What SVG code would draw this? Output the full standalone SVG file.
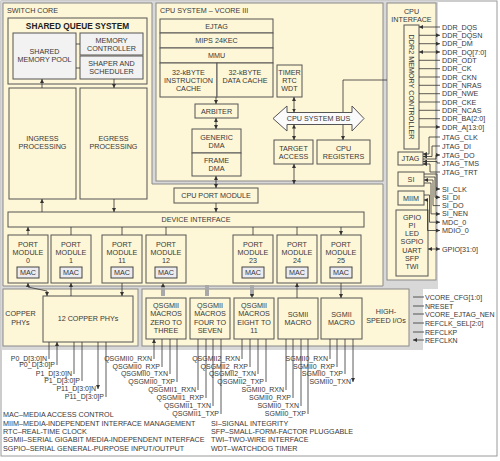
<svg xmlns="http://www.w3.org/2000/svg" width="500" height="461" viewBox="0 0 500 461">
<defs>
<style>
.bg{fill:#d8d8d8}
.panel{fill:#fdf6d7;stroke:#8a8a8a;stroke-width:1}
.box{fill:#fdf6d7;stroke:#555;stroke-width:1}
.lbox{fill:#f2f2f2;stroke:#555;stroke-width:1}
.mac{fill:#ebebf0;stroke:#444;stroke-width:1}
.bus{fill:#fafafa;stroke:#555;stroke-width:1}
text{font-family:"Liberation Sans",Arial,sans-serif;font-size:7.2px;fill:#383838}
.c{text-anchor:middle}
.e{text-anchor:end}
.s7{font-size:7px}
.b{font-weight:bold;font-size:8.3px;fill:#222}
.ln{stroke:#333;stroke-width:0.8;fill:none}
.a{marker-end:url(#ah)}
.r{marker-start:url(#ah)}
.gb{stroke:#a8a8a8;stroke-width:4;fill:none}
</style>
<marker id="ah" viewBox="0 0 6 6" refX="6" refY="3" markerWidth="4" markerHeight="4" orient="auto-start-reverse" markerUnits="userSpaceOnUse"><path d="M0,0L6,3L0,6z" fill="#333"/></marker>
</defs>

<rect x="1" y="1" width="496" height="455" fill="#fff" stroke="#9a9a9a" stroke-width="1"/>
<polygon class="bg" points="1,1 438,1 438,289 423,289 423,350 1,350"/>

<g id="switch-core">
<path class="panel" d="M3,3H152V184H383V286H3Z"/>
<text x="7" y="12.5">SWITCH CORE</text>
</g>
<g id="shared-queue-system">
<rect class="box" x="8" y="18" width="139" height="66" stroke-width="1.3"/>
<text class="c b" x="77.5" y="29">SHARED QUEUE SYSTEM</text>
</g>
<g id="shared-memory-pool">
<rect class="lbox" x="13" y="33" width="63" height="46"/>
<text class="c" x="44.5" y="53.5">SHARED</text>
<text class="c" x="44.5" y="61.5">MEMORY POOL</text>
</g>
<g id="memory-controller">
<rect class="lbox" x="80" y="33" width="63" height="22"/>
<text class="c" x="111.5" y="42.5">MEMORY</text>
<text class="c" x="111.5" y="50.5">CONTROLLER</text>
</g>
<g id="shaper">
<rect class="lbox" x="80" y="56" width="63" height="23"/>
<text class="c" x="111.5" y="65.5">SHAPER AND</text>
<text class="c" x="111.5" y="73.5">SCHEDULER</text>
</g>
<g id="ingress">
<rect class="box" x="9" y="88" width="67" height="111"/>
<text class="c" x="42.5" y="140.5">INGRESS</text>
<text class="c" x="42.5" y="148.5">PROCESSING</text>
</g>
<g id="egress">
<rect class="box" x="80" y="88" width="67" height="111"/>
<text class="c" x="113.5" y="140.5">EGRESS</text>
<text class="c" x="113.5" y="148.5">PROCESSING</text>
</g>
<g id="device-interface">
<rect class="box" x="8" y="212" width="356" height="15"/>
<text class="c" x="196" y="222">DEVICE INTERFACE</text>
</g>
<g id="cpu-port-module">
<rect class="box" x="174" y="188" width="84" height="15"/>
<text class="c" x="216" y="198">CPU PORT MODULE</text>
</g>

<g id="pm0"><rect class="box" x="8" y="235" width="40" height="48"/><text class="c" x="28" y="246.5">PORT</text><text class="c" x="28" y="254.5">MODULE</text><text class="c" x="28" y="262.5">0</text><rect class="mac" x="17" y="267" width="22" height="11"/><text class="c" x="28" y="275">MAC</text></g>
<g id="pm1"><rect class="box" x="51" y="235" width="40" height="48"/><text class="c" x="71" y="246.5">PORT</text><text class="c" x="71" y="254.5">MODULE</text><text class="c" x="71" y="262.5">1</text><rect class="mac" x="60" y="267" width="22" height="11"/><text class="c" x="71" y="275">MAC</text></g>
<g id="pm11"><rect class="box" x="102" y="235" width="40" height="48"/><text class="c" x="122" y="246.5">PORT</text><text class="c" x="122" y="254.5">MODULE</text><text class="c" x="122" y="262.5">11</text><rect class="mac" x="111" y="267" width="22" height="11"/><text class="c" x="122" y="275">MAC</text></g>
<g id="pm12"><rect class="box" x="146" y="235" width="40" height="48"/><text class="c" x="166" y="246.5">PORT</text><text class="c" x="166" y="254.5">MODULE</text><text class="c" x="166" y="262.5">12</text><rect class="mac" x="155" y="267" width="22" height="11"/><text class="c" x="166" y="275">MAC</text></g>
<g id="pm23"><rect class="box" x="233" y="235" width="40" height="48"/><text class="c" x="253" y="246.5">PORT</text><text class="c" x="253" y="254.5">MODULE</text><text class="c" x="253" y="262.5">23</text><rect class="mac" x="242" y="267" width="22" height="11"/><text class="c" x="253" y="275">MAC</text></g>
<g id="pm24"><rect class="box" x="277" y="235" width="40" height="48"/><text class="c" x="297" y="246.5">PORT</text><text class="c" x="297" y="254.5">MODULE</text><text class="c" x="297" y="262.5">24</text><rect class="mac" x="286" y="267" width="22" height="11"/><text class="c" x="297" y="275">MAC</text></g>
<g id="pm25"><rect class="box" x="321" y="235" width="40" height="48"/><text class="c" x="341" y="246.5">PORT</text><text class="c" x="341" y="254.5">MODULE</text><text class="c" x="341" y="262.5">25</text><rect class="mac" x="330" y="267" width="22" height="11"/><text class="c" x="341" y="275">MAC</text></g>

<g id="cpu-system">
<rect class="panel" x="156" y="3" width="227" height="178"/>
<text x="160" y="12.5">CPU SYSTEM – VCORE III</text>
</g>
<g id="ejtag"><rect class="box" x="160" y="19" width="113" height="14"/><text class="c" x="216.5" y="28.5">EJTAG</text></g>
<g id="mips"><rect class="box" x="160" y="33" width="113" height="15"/><text class="c" x="216.5" y="43">MIPS 24KEC</text></g>
<g id="mmu"><rect class="box" x="160" y="48" width="113" height="15"/><text class="c" x="216.5" y="58">MMU</text></g>
<g id="icache"><rect class="box" x="160" y="63" width="57" height="34"/><text class="c" x="188.5" y="74.5">32-kBYTE</text><text class="c" x="188.5" y="82.5">INSTRUCTION</text><text class="c" x="188.5" y="90.5">CACHE</text></g>
<g id="dcache"><rect class="box" x="217" y="63" width="56" height="34"/><text class="c" x="245" y="74.5">32-kBYTE</text><text class="c" x="245" y="82.5">DATA CACHE</text></g>
<g id="timer"><rect class="box" x="277" y="65" width="25" height="32"/><text class="c" x="289.5" y="74.5">TIMER</text><text class="c" x="289.5" y="82.5">RTC</text><text class="c" x="289.5" y="90.5">WDT</text></g>
<g id="arbiter"><rect class="box" x="195" y="104" width="43" height="14"/><text class="c" x="216.5" y="113.5">ARBITER</text></g>
<g id="generic-dma"><rect class="box" x="192" y="129" width="49" height="24"/><text class="c" x="216.5" y="139.5">GENERIC</text><text class="c" x="216.5" y="147.5">DMA</text></g>
<g id="frame-dma"><rect class="box" x="192" y="153" width="49" height="23"/><text class="c" x="216.5" y="162.5">FRAME</text><text class="c" x="216.5" y="170.5">DMA</text></g>
<g id="target-access"><rect class="box" x="274" y="140" width="39" height="24"/><text class="c" x="293.5" y="150.5">TARGET</text><text class="c" x="293.5" y="158.5">ACCESS</text></g>
<g id="cpu-registers"><rect class="box" x="317" y="140" width="53" height="24"/><text class="c" x="343.5" y="150.5">CPU</text><text class="c" x="343.5" y="158.5">REGISTERS</text></g>

<g id="cpu-interface">
<rect class="panel" x="387" y="3" width="49" height="277"/>
<text class="c" x="411.5" y="13.5">CPU</text>
<text class="c" x="411.5" y="21.5">INTERFACE</text>
</g>
<g id="ddr2-controller"><rect class="box" x="404" y="25" width="15" height="124"/><text class="c" transform="translate(411.5,87) rotate(90)" y="2.5">DDR2 MEMORY CONTROLLER</text></g>
<g id="jtag"><rect class="box" x="398" y="152" width="25" height="13"/><text class="c" x="410.5" y="161">JTAG</text></g>
<g id="si"><rect class="box" x="398" y="172" width="26" height="14"/><text class="c" x="411" y="181.5">SI</text></g>
<g id="miim"><rect class="box" x="398" y="191" width="26" height="14"/><text class="c" x="411" y="200.5">MIIM</text></g>
<g id="gpio"><rect class="box" x="396" y="210" width="32" height="66"/>
<text class="c" x="412" y="219.5">GPIO</text><text class="c" x="412" y="227.8">PI</text><text class="c" x="412" y="236.1">LED</text><text class="c" x="412" y="244.4">SGPIO</text><text class="c" x="412" y="252.7">UART</text><text class="c" x="412" y="261">SFP</text><text class="c" x="412" y="269.3">TWI</text></g>

<g id="copper-phys-panel">
<rect class="panel" x="3" y="289" width="135" height="57"/>
<text class="c" x="20.5" y="315.5">COPPER</text>
<text class="c" x="20.5" y="324.5">PHYs</text>
</g>
<g id="copper-phys"><rect class="box" x="43" y="296" width="90" height="46"/><text class="c" x="88" y="320.5">12 COPPER PHYs</text></g>
<g id="high-speed-io">
<rect class="panel" x="142" y="289" width="267" height="57"/>
<text class="c" x="386" y="313.5">HIGH-</text>
<text class="c" x="386" y="322.5">SPEED I/Os</text>
</g>
<g id="qsgmii0"><rect class="box" x="146" y="298" width="40" height="41"/><text class="c" x="166" y="307.5">QSGMII</text><text class="c" x="166" y="316">MACROS</text><text class="c" x="166" y="324.5">ZERO TO</text><text class="c" x="166" y="333">THREE</text></g>
<g id="qsgmii1"><rect class="box" x="190" y="298" width="40" height="41"/><text class="c" x="210" y="307.5">QSGMII</text><text class="c" x="210" y="316">MACROS</text><text class="c" x="210" y="324.5">FOUR TO</text><text class="c" x="210" y="333">SEVEN</text></g>
<g id="qsgmii2"><rect class="box" x="234" y="298" width="40" height="41"/><text class="c" x="254" y="307.5">QSGMII</text><text class="c" x="254" y="316">MACROS</text><text class="c" x="254" y="324.5">EIGHT TO</text><text class="c" x="254" y="333">11</text></g>
<g id="sgmii-a"><rect class="box" x="278" y="298" width="40" height="41"/><text class="c" x="298" y="316.5">SGMII</text><text class="c" x="298" y="325">MACRO</text></g>
<g id="sgmii-b"><rect class="box" x="321" y="298" width="41" height="41"/><text class="c" x="341.5" y="316.5">SGMII</text><text class="c" x="341.5" y="325">MACRO</text></g>

<g id="connectors">
<path class="ln" d="M76,44H80M76,68H80"/>
<path class="ln a" d="M42,88V79"/>
<path class="ln a" d="M114,79V88"/>
<path class="ln a" d="M42,212V199"/>
<path class="ln a" d="M114,199V212"/>
<path class="ln a" d="M216,203V212"/>
<path class="ln a r" d="M28,227V235M71,227V235M122,227V235M166,227V235M253,227V235M297,227V235M341,227V235"/>
<path class="ln a r" d="M216,176V188"/>
<path class="ln a" d="M216,97V104"/>
<path class="ln a r" d="M216,118V129"/>
<path class="ln" d="M387,80H343V112"/>
<polygon class="bus" points="273,118.5 287,106 287,112.5 352,112.5 352,106 364,118.5 352,131 352,124.5 287,124.5 287,131"/>
<text class="c" x="318.5" y="121">CPU SYSTEM BUS</text>
<path class="ln a" d="M343,124.5V140"/>
<path class="ln a r" d="M294,112.5V97"/>
<path class="ln a r" d="M294,124.5V140"/>
<path class="ln a r" d="M294,164V184"/>
<path class="ln a r" d="M28,283V287L47,291V296"/>
<path class="ln a r" d="M71,283V296M122,283V296"/>
<path class="gb" d="M163,285V296M207,285V296M252,285V296"/>
<path class="a r" stroke="none" fill="none" d="M163,283V298M207,283V298M252,283V298"/>
<path class="ln a r" d="M297,283V298M341,283V298"/>
<path class="ln a r" d="M419,27H440M419,35.3H440"/>
<path class="ln a" d="M419,43.7H440"/>
<path class="ln a r" d="M419,52H440"/>
<path class="ln a" d="M419,60.3H440M419,68.7H440M419,77H440M419,85.3H440M419,93.7H440M419,102H440M419,110.3H440M419,118.7H440M419,127H440"/>
<path class="ln r" d="M423,154H429V137H440"/>
<path class="ln r" d="M423,156.5H432V146H440"/>
<path class="ln a" d="M423,159H436V155H440"/>
<path class="ln r" d="M423,161.5H437V163H440"/>
<path class="ln r" d="M423,164H430V172H440"/>
<path class="ln a" d="M424,174H437V189H440"/>
<path class="ln a" d="M424,177H435V197.3H440"/>
<path class="ln r" d="M424,180H433V205.6H440"/>
<path class="ln a" d="M424,183H431V213.9H440"/>
<path class="ln a" d="M424,195H429.5V222.2H440"/>
<path class="ln a r" d="M424,200H427.5V230.5H440"/>
<path class="ln a r" d="M428,249H440"/>
<path class="ln a" d="M424,297H413M424,306H413M424,314H413M424,323H413M424,332H413M424,340H413"/>
<path class="ln a" d="M49,342V359M74,342V374M98,342V389"/>
<path class="ln r" d="M57,342V365M82,342V381M106,342V397"/>
<path class="ln r" d="M154,339V359M162,339V367M198,339V390M206,339V398M242,339V359M250,339V367M286,339V390M293,339V398M330,339V359M337,339V367"/>
<path class="ln a" d="M170,339V374M177,339V382M213,339V406M221,339V414M258,339V374M266,339V382M301,339V406M308,339V414M345,339V374M353,339V382"/>
</g>

<g id="signal-labels">
<text x="442" y="29.5">DDR_DQS</text>
<text x="442" y="37.8">DDR_DQSN</text>
<text x="442" y="46.2">DDR_DM</text>
<text x="442" y="54.5">DDR_DQ[7:0]</text>
<text x="442" y="62.8">DDR_ODT</text>
<text x="442" y="71.2">DDR_CK</text>
<text x="442" y="79.5">DDR_CKN</text>
<text x="442" y="87.8">DDR_NRAS</text>
<text x="442" y="96.2">DDR_NWE</text>
<text x="442" y="104.5">DDR_CKE</text>
<text x="442" y="112.8">DDR_NCAS</text>
<text x="442" y="121.2">DDR_BA[2:0]</text>
<text x="442" y="129.5">DDR_A[13:0]</text>
<text x="442" y="139.5">JTAG_CLK</text>
<text x="442" y="148.5">JTAG_DI</text>
<text x="442" y="157.5">JTAG_DO</text>
<text x="442" y="165.5">JTAG_TMS</text>
<text x="442" y="174.5">JTAG_TRT</text>
<text x="442" y="191.5">SI_CLK</text>
<text x="442" y="199.8">SI_DI</text>
<text x="442" y="208.1">SI_DO</text>
<text x="442" y="216.4">SI_NEN</text>
<text x="442" y="224.7">MDC_0</text>
<text x="442" y="233">MDIO_0</text>
<text x="442" y="251.5">GPIO[31:0]</text>
<text class="s7" x="425" y="299.5">VCORE_CFG[1:0]</text>
<text class="s7" x="425" y="308.5">NRESET</text>
<text class="s7" x="425" y="316.5">VCORE_EJTAG_NEN</text>
<text class="s7" x="425" y="325.5">REFCLK_SEL[2:0]</text>
<text class="s7" x="425" y="334.5">REFCLKP</text>
<text class="s7" x="425" y="342.5">REFCLKN</text>
<text class="e s7" x="47" y="361">P0_D[3:0]N</text>
<text class="e s7" x="55" y="367">P0_D[3:0]P</text>
<text class="e s7" x="72" y="376">P1_D[3:0]N</text>
<text class="e s7" x="80" y="383">P1_D[3:0]P</text>
<text class="e s7" x="96" y="391">P11_D[3:0]N</text>
<text class="e s7" x="104" y="399">P11_D[3:0]P</text>
<text class="e s7" x="152" y="361">QSGMII0_RXN</text>
<text class="e s7" x="160" y="369">QSGMII0_RXP</text>
<text class="e s7" x="168" y="376">QSGMII0_TXN</text>
<text class="e s7" x="175" y="384">QSGMII0_TXP</text>
<text class="e s7" x="196" y="392">QSGMII1_RXN</text>
<text class="e s7" x="204" y="400">QSGMII1_RXP</text>
<text class="e s7" x="211" y="408">QSGMII1_TXN</text>
<text class="e s7" x="219" y="416">QSGMII1_TXP</text>
<text class="e s7" x="240" y="361">QSGMII2_RXN</text>
<text class="e s7" x="248" y="369">QSGMII2_RXP</text>
<text class="e s7" x="256" y="376">QSGMII2_TXN</text>
<text class="e s7" x="264" y="384">QSGMII2_TXP</text>
<text class="e s7" x="284" y="392">SGMII0_RXN</text>
<text class="e s7" x="291" y="400">SGMII0_RXP</text>
<text class="e s7" x="299" y="408">SGMII0_TXN</text>
<text class="e s7" x="306" y="416">SGMII0_TXP</text>
<text class="e s7" x="328" y="361">SGMII0_RXN</text>
<text class="e s7" x="335" y="369">SGMII0_RXP</text>
<text class="e s7" x="343" y="376">SGMII0_TXP</text>
<text class="e s7" x="351" y="384">SGMII0_TXN</text>
</g>

<g id="legend">
<text x="3" y="416.5">MAC–MEDIA ACCESS CONTROL</text>
<text x="3" y="425.5">MIIM–MEDIA-INDEPENDENT INTERFACE MANAGEMENT</text>
<text x="3" y="433.5">RTC–REAL-TIME CLOCK</text>
<text x="3" y="441.5">SGMII–SERIAL GIGABIT MEDIA-INDEPENDENT INTERFACE</text>
<text x="3" y="450.5">SGPIO–SERIAL GENERAL-PURPOSE INPUT/OUTPUT</text>
<text x="211" y="425.5">SI–SIGNAL INTEGRITY</text>
<text x="211" y="433.5">SFP–SMALL-FORM-FACTOR PLUGGABLE</text>
<text x="211" y="441.5">TWI–TWO-WIRE INTERFACE</text>
<text x="211" y="450.5">WDT–WATCHDOG TIMER</text>
</g>
</svg>
